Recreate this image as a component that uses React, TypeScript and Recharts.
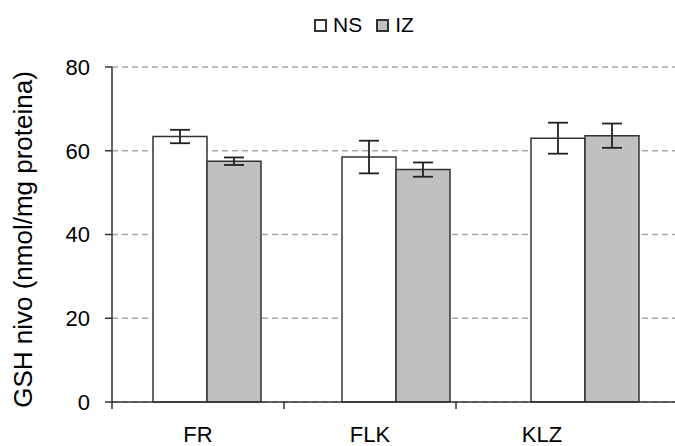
import React from 'react';
import { BarChart, Bar, XAxis, YAxis, CartesianGrid, ErrorBar, Legend, Label } from 'recharts';

const categories = ['FR', 'FLK', 'KLZ'];
const nsValues = [63.4, 58.5, 63.0];
const nsErrors = [1.6, 3.9, 3.7];
const izValues = [57.5, 55.5, 63.6];
const izErrors = [0.9, 1.7, 2.9];
const yTicks = [0, 20, 40, 60, 80];
const seriesOrder = ['NS', 'IZ'];

const data = categories.map((c, i) => ({
  cat: c,
  ns: nsValues[i],
  nsErr: nsErrors[i],
  iz: izValues[i],
  izErr: izErrors[i],
}));

const FONT = '"Liberation Sans", Arial, sans-serif';
const INK = '#333333';

const CatTick = (props: any) => {
  const { x, y, payload } = props;
  const off = payload && typeof payload.offset === 'number' ? payload.offset : 86;
  return (
    <g>
      <line x1={x - off} y1={y} x2={x - off} y2={y + 7} stroke={INK} strokeWidth={1.5} />
      <text x={x} y={y + 40} textAnchor="middle" fontFamily={FONT} fontSize={22} fill="#000">
        {payload.value}
      </text>
    </g>
  );
};

const LegendContent = (props: any) => {
  const items = [...(props.payload || [])].sort(
    (a: any, b: any) => seriesOrder.indexOf(a.value) - seriesOrder.indexOf(b.value)
  );
  return (
    <div style={{ display: 'flex', alignItems: 'center', marginLeft: 314, height: 20, fontFamily: FONT, fontSize: 21, color: '#000' }}>
      {items.map((it: any, i: number) => (
        <div key={i} style={{ display: 'flex', alignItems: 'center', marginRight: 14 }}>
          <div style={{ width: 9, height: 9, border: `2px solid ${INK}`, background: it.payload?.fill || it.color, marginRight: 6 }} />
          <span style={{ lineHeight: '20px' }}>{it.value}</span>
        </div>
      ))}
    </div>
  );
};

export default function App() {
  return (
    <div style={{ position: 'absolute', left: 0, top: 0 }}>
      <BarChart
        width={675}
        height={446}
        data={data}
        margin={{ top: 47, right: -4, bottom: 0, left: 0 }}
        barGap={0}
        barSize={54}
      >
        <CartesianGrid xAxisId="b" vertical={false} stroke="#a6a6a6" strokeWidth={1.5} strokeDasharray="6 4" />
        <XAxis xAxisId="b" dataKey="cat" hide height={0} />
        <XAxis
          xAxisId="l"
          dataKey="cat"
          height={44}
          padding={{ left: 0, right: 51 }}
          tickLine={false}
          tickSize={0}
          tickMargin={0}
          axisLine={{ stroke: INK, strokeWidth: 1.5 }}
          tick={<CatTick />}
          interval={0}
        />
        <YAxis
          width={112}
          domain={[0, 80]}
          ticks={yTicks}
          tickSize={7}
          tickMargin={15}
          axisLine={{ stroke: INK, strokeWidth: 1.5 }}
          tickLine={{ stroke: INK, strokeWidth: 1.5 }}
          tick={{ fontFamily: FONT, fontSize: 22, fill: '#000' }}
        >
          <Label
            value="GSH nivo (nmol/mg proteina)"
            angle={-90}
            position="center"
            dx={-33}
            dy={5}
            style={{ fontFamily: FONT, fontSize: 26, fill: '#000' }}
          />
        </YAxis>
        <Legend verticalAlign="top" itemSorter={null as any} content={<LegendContent />} wrapperStyle={{ top: 15, left: 0, width: 675 }} />
        <Bar xAxisId="b" dataKey="ns" name="NS" fill="#ffffff" stroke={INK} strokeWidth={1.5} isAnimationActive={false}>
          <ErrorBar dataKey="nsErr" width={10} stroke="#222" strokeWidth={1.8} isAnimationActive={false} />
        </Bar>
        <Bar xAxisId="b" dataKey="iz" name="IZ" fill="#c0c0c0" stroke={INK} strokeWidth={1.5} isAnimationActive={false}>
          <ErrorBar dataKey="izErr" width={10} stroke="#222" strokeWidth={1.8} isAnimationActive={false} />
        </Bar>
      </BarChart>
    </div>
  );
}
